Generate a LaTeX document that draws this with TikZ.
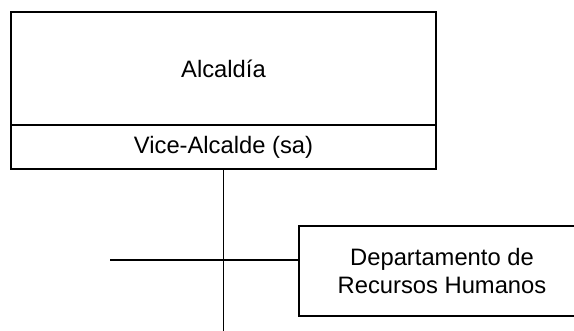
\documentclass[tikz,border=0pt]{standalone}
\usepackage{fontspec}
\setmainfont{Liberation Sans}
\usepackage{tikz}

\begin{document}
\begin{tikzpicture}[
    caja/.style={draw, line width=1.1pt, inner sep=0pt, align=center,
        font=\fontsize{16.9pt}{19.4pt}\selectfont},
    linea/.style={line width=1.1pt}
]
    \useasboundingbox (0, 0) rectangle (14.35, -8.25);
    \clip (0, 0) rectangle (14.35, -8.25);

    \node[caja, minimum width=10.625cm, minimum height=2.825cm] (alcaldia) at (5.5875, -1.7125) {Alcaldía};
    \node[caja, minimum width=10.625cm, minimum height=1.1cm] (vice) at (5.5875, -3.675) {Vice-Alcalde (sa)};

    \node[caja, minimum width=7.15cm, minimum height=2.25cm] (rrhh) at (11.05, -6.775) {
        Departamento de\\
        Recursos Humanos
    };

    \coordinate (vfin) at (5.5875, -8.4);
    \coordinate (hini) at (2.75, -6.5);

    \draw[linea] (vice.south) -- (vfin);
    \draw[linea] (hini) -- (hini -| rrhh.west);
\end{tikzpicture}
\end{document}
